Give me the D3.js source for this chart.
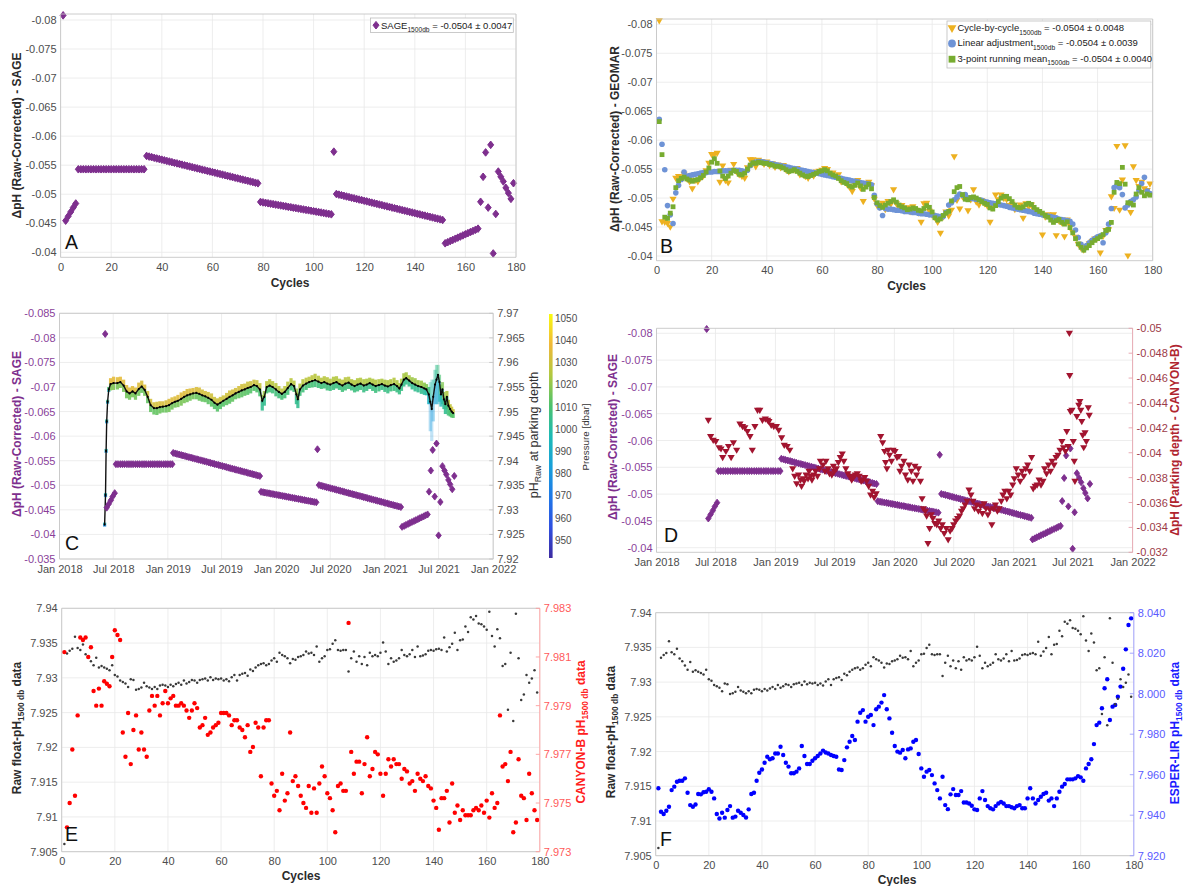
<!DOCTYPE html>
<html><head><meta charset="utf-8">
<script src="https://cdn.jsdelivr.net/npm/d3@7"></script>
<style>html,body{margin:0;padding:0;background:#fff}svg{display:block}</style>
</head><body>
<svg id="chart" width="1188" height="886" xmlns="http://www.w3.org/2000/svg"></svg>
<script>
// ================= DATA =================
const cycleTicks = [0,20,40,60,80,100,120,140,160,180];
const sageTicksAB = [-0.08,-0.075,-0.07,-0.065,-0.06,-0.055,-0.05,-0.045,-0.04];
const sageTicksC = [-0.085,-0.08,-0.075,-0.07,-0.065,-0.06,-0.055,-0.05,-0.045,-0.04,-0.035];
const parkTicksC = [7.92,7.925,7.93,7.935,7.94,7.945,7.95,7.955,7.96,7.965,7.97];
const pressureTicks = [950,960,970,980,990,1000,1010,1020,1030,1040,1050];
const canyonParkTicksD = [-0.05,-0.048,-0.046,-0.044,-0.042,-0.04,-0.038,-0.036,-0.034,-0.032];
const rawTicks = [7.905,7.91,7.915,7.92,7.925,7.93,7.935,7.94];
const canyonTicksE = [7.973,7.975,7.977,7.979,7.981,7.983];
const esperTicksF = [7.92,7.94,7.96,7.98,8.00,8.02,8.04];
const dateTicks = ["2018-01","2018-07","2019-01","2019-07","2020-01","2020-07","2021-01","2021-07","2022-01"];
const dateTickLabels = ["Jan 2018","Jul 2018","Jan 2019","Jul 2019","Jan 2020","Jul 2020","Jan 2021","Jul 2021","Jan 2022"];

// ΔpH (Raw - Corrected) SAGE, cycles 1..179
const sage = [
-0.0808,
-0.04545,-0.04620,-0.04695,-0.04770,-0.04840,
-0.0543,-0.0543,-0.0543,-0.0543,-0.0543,-0.0543,-0.0543,-0.0543,-0.0543,
-0.0543,-0.0543,-0.0543,-0.0543,-0.0543,-0.0543,-0.0543,-0.0543,-0.0543,
-0.0543,-0.0543,-0.0543,-0.0543,-0.0543,-0.0543,-0.0543,-0.0543,-0.0543,
-0.05659,-0.05648,-0.05638,-0.05627,-0.05616,-0.05606,-0.05595,-0.05584,-0.05573,-0.05563,
-0.05552,-0.05541,-0.05531,-0.05520,-0.05509,-0.05498,-0.05488,-0.05477,-0.05466,-0.05456,
-0.05445,-0.05434,-0.05423,-0.05413,-0.05402,-0.05391,-0.05381,-0.05370,-0.05359,-0.05348,
-0.05338,-0.05327,-0.05316,-0.05306,-0.05295,-0.05284,-0.05273,-0.05263,-0.05252,-0.05241,
-0.05231,-0.05220,-0.05209,-0.05198,-0.05188,
-0.04867,-0.04859,-0.04852,-0.04844,-0.04837,-0.04829,-0.04821,-0.04814,-0.04806,-0.04799,
-0.04791,-0.04783,-0.04776,-0.04768,-0.04761,-0.04753,-0.04745,-0.04738,-0.04730,-0.04723,
-0.04715,-0.04707,-0.04700,-0.04692,-0.04685,-0.04677,-0.04669,-0.04662,-0.04654,
-0.05733,
-0.05004,-0.04993,-0.04983,-0.04972,-0.04961,-0.04951,-0.04940,-0.04930,-0.04919,-0.04908,
-0.04898,-0.04887,-0.04877,-0.04866,-0.04855,-0.04844,-0.04834,-0.04823,-0.04813,-0.04802,
-0.04791,-0.04781,-0.04770,-0.04759,-0.04749,-0.04738,-0.04727,-0.04717,-0.04706,-0.04695,
-0.04685,-0.04674,-0.04664,-0.04653,-0.04642,-0.04632,-0.04621,-0.04610,-0.04600,-0.04589,
-0.04579,-0.04568,-0.04557,
-0.04155,-0.04174,-0.04194,-0.04213,-0.04233,-0.04252,-0.04271,-0.04291,-0.04310,-0.04330,
-0.04349,-0.04368,-0.04388,-0.04407,
-0.0487,-0.0530,-0.0572,-0.0477,-0.0585,-0.0398,-0.0466,-0.0539,-0.0530,-0.0522,
-0.0511,-0.0502,-0.0492,-0.0519];

// day of each cycle, counted from 1 Jan 2018
const cycleDay = [
154,159,166,173,179,186,
190,197,205,212,219,227,234,241,248,256,263,270,278,285,292,300,307,314,321,329,336,343,351,358,365,373,380,
383,390,396,403,410,416,423,429,436,443,449,456,463,469,476,483,489,496,503,509,516,522,529,536,542,549,556,562,569,575,582,589,595,602,609,615,622,629,635,642,649,655,662,668,675,
679,686,692,699,706,712,719,725,732,739,745,752,759,765,772,778,785,792,798,805,812,818,825,831,838,845,851,858,865,
869,
874,881,887,894,900,907,913,920,927,933,940,946,953,959,966,973,979,986,992,999,1005,1012,1019,1025,1032,1038,1045,1051,1058,1065,1071,1078,1084,1091,1097,1104,1110,1117,1124,1130,1137,1143,1150,
1154,1161,1167,1174,1180,1187,1194,1200,1207,1213,1220,1227,1233,1240,
1245,1251,1257,1264,1270,1277,1283,1290,1297,1303,1310,1316,1323,1330];

// GEOMAR methods (B), cycles 1..179
const cycleByCycle = [
-0.0806,-0.0459,-0.0458,-0.0456,-0.0450,-0.0498,-0.0534,-0.0537,-0.0535,-0.0541,
-0.0533,-0.0528,-0.0516,-0.0530,-0.0528,-0.0535,-0.0538,-0.0547,-0.0560,-0.0575,
-0.0575,-0.0577,-0.0527,-0.0555,-0.0530,-0.0526,-0.0548,-0.0558,-0.0545,-0.0540,
-0.0537,-0.0534,-0.0552,-0.0566,-0.0566,-0.0554,-0.0565,-0.0563,-0.0558,-0.0562,
-0.0556,-0.0559,-0.0553,-0.0557,-0.0552,-0.0556,-0.0548,-0.0545,-0.0550,-0.0549,
-0.0551,-0.0540,-0.0541,-0.0537,-0.0534,-0.0540,-0.0538,-0.0545,-0.0546,-0.0548,
-0.0551,-0.0549,-0.0540,-0.0543,-0.0537,-0.0540,-0.0528,-0.0530,-0.0524,-0.0519,
-0.0511,-0.0523,-0.0530,-0.0517,-0.0494,-0.0521,-0.0527,-0.0521,-0.0498,-0.0487,
-0.0484,-0.0491,-0.0480,-0.0494,-0.0489,-0.0514,-0.0490,-0.0483,-0.0487,-0.0478,
-0.0483,-0.0476,-0.0485,-0.0479,-0.0474,-0.0458,-0.0490,-0.0491,-0.0477,-0.0470,
-0.0466,-0.0458,-0.0439,-0.0467,-0.0476,-0.0469,-0.0479,-0.0571,-0.0496,-0.0481,
-0.0502,-0.0500,-0.0478,-0.0497,-0.0514,-0.0493,-0.0488,-0.0495,-0.0490,-0.0486,
-0.0458,-0.0483,-0.0505,-0.0497,-0.0505,-0.0499,-0.0497,-0.0487,-0.0489,-0.0480,
-0.0482,-0.0488,-0.0465,-0.0490,-0.0484,-0.0488,-0.0479,-0.0476,-0.0473,-0.0436,
-0.0467,-0.0471,-0.0464,-0.0471,-0.0435,-0.0460,-0.0457,-0.0433,-0.0462,-0.0452,
-0.0441,-0.0432,-0.0420,-0.0413,-0.0410,-0.0416,-0.0421,-0.0425,-0.0429,-0.0431,
-0.0405,-0.0434,-0.0444,-0.0445,-0.0502,-0.0482,-0.0589,-0.0479,-0.0531,-0.0590,
-0.0400,-0.0475,-0.0554,-0.0530,-0.0520,-0.0527,-0.0516,-0.0513,-0.0524];
const linearAdj = [
-0.0636,-0.0593,-0.0549,-0.0487,-0.0471,-0.0456,-0.0509,-0.0522,-0.0532,-0.0545,
-0.0538,-0.0539,-0.0540,-0.0541,-0.0542,-0.0543,-0.0544,-0.0544,-0.0545,-0.0545,
-0.0546,-0.0546,-0.0546,-0.0547,-0.0547,-0.0547,-0.0547,-0.0548,-0.0548,-0.0548,
-0.0547,-0.0546,-0.0548,-0.0556,-0.0560,-0.0562,-0.0563,-0.0563,-0.0562,-0.0561,
-0.0560,-0.0559,-0.0558,-0.0557,-0.0556,-0.0555,-0.0554,-0.0553,-0.0552,-0.0551,
-0.0550,-0.0549,-0.0548,-0.0547,-0.0546,-0.0545,-0.0544,-0.0543,-0.0542,-0.0541,
-0.0540,-0.0539,-0.0538,-0.0537,-0.0536,-0.0535,-0.0534,-0.0533,-0.0532,-0.0531,
-0.0530,-0.0529,-0.0528,-0.0527,-0.0526,-0.0525,-0.0524,-0.0523,-0.0505,-0.0490,
-0.0483,-0.0470,-0.0482,-0.0481,-0.0481,-0.0480,-0.0479,-0.0479,-0.0478,-0.0477,
-0.0477,-0.0476,-0.0475,-0.0475,-0.0474,-0.0473,-0.0473,-0.0472,-0.0471,-0.0471,
-0.0470,-0.0469,-0.0468,-0.0468,-0.0475,-0.0488,-0.0492,-0.0497,-0.0502,-0.0507,
-0.0505,-0.0506,-0.0500,-0.0500,-0.0499,-0.0498,-0.0497,-0.0496,-0.0494,-0.0493,
-0.0492,-0.0491,-0.0490,-0.0489,-0.0488,-0.0487,-0.0486,-0.0484,-0.0483,-0.0482,
-0.0481,-0.0480,-0.0479,-0.0478,-0.0477,-0.0476,-0.0474,-0.0473,-0.0472,-0.0471,
-0.0470,-0.0469,-0.0468,-0.0467,-0.0466,-0.0464,-0.0463,-0.0462,-0.0461,-0.0460,
-0.0455,-0.0445,-0.0432,-0.0420,-0.0412,-0.0418,-0.0423,-0.0427,-0.0430,-0.0433,
-0.0435,-0.0423,-0.0440,-0.0455,-0.0482,-0.0518,-0.0522,-0.0518,-0.0506,-0.0483,
-0.0488,-0.0494,-0.0497,-0.0502,-0.0513,-0.0525,-0.0536,-0.0512,-0.0508];
const runMean3 = [
-0.0632,-0.0575,-0.0467,-0.0465,-0.0474,-0.0485,-0.0518,-0.0530,-0.0534,-0.0536,
-0.0533,-0.0531,-0.0529,-0.0531,-0.0532,-0.0535,-0.0539,-0.0545,-0.0552,-0.0562,
-0.0568,-0.0560,-0.0547,-0.0538,-0.0534,-0.0538,-0.0543,-0.0548,-0.0546,-0.0541,
-0.0540,-0.0543,-0.0550,-0.0557,-0.0561,-0.0560,-0.0562,-0.0561,-0.0560,-0.0560,
-0.0558,-0.0557,-0.0555,-0.0555,-0.0554,-0.0552,-0.0549,-0.0546,-0.0547,-0.0549,
-0.0546,-0.0543,-0.0540,-0.0538,-0.0537,-0.0539,-0.0541,-0.0543,-0.0546,-0.0547,
-0.0549,-0.0547,-0.0543,-0.0540,-0.0538,-0.0534,-0.0530,-0.0527,-0.0525,-0.0521,
-0.0519,-0.0522,-0.0526,-0.0521,-0.0515,-0.0519,-0.0524,-0.0516,-0.0501,-0.0492,
-0.0487,-0.0484,-0.0488,-0.0491,-0.0494,-0.0497,-0.0493,-0.0488,-0.0485,-0.0483,
-0.0480,-0.0481,-0.0483,-0.0482,-0.0479,-0.0478,-0.0482,-0.0487,-0.0484,-0.0476,
-0.0466,-0.0462,-0.0464,-0.0470,-0.0474,-0.0477,-0.0495,-0.0511,-0.0518,-0.0520,
-0.0506,-0.0498,-0.0497,-0.0501,-0.0502,-0.0500,-0.0497,-0.0494,-0.0491,-0.0489,
-0.0483,-0.0481,-0.0487,-0.0494,-0.0500,-0.0503,-0.0503,-0.0499,-0.0494,-0.0488,
-0.0484,-0.0483,-0.0485,-0.0489,-0.0491,-0.0489,-0.0484,-0.0480,-0.0477,-0.0474,
-0.0470,-0.0467,-0.0462,-0.0458,-0.0461,-0.0463,-0.0458,-0.0455,-0.0459,-0.0449,
-0.0440,-0.0430,-0.0421,-0.0415,-0.0410,-0.0414,-0.0418,-0.0423,-0.0427,-0.0430,
-0.0433,-0.0437,-0.0444,-0.0446,-0.0458,-0.0510,-0.0527,-0.0525,-0.0553,-0.0524,
-0.0492,-0.0491,-0.0488,-0.0507,-0.0518,-0.0510,-0.0504,-0.0507,-0.0505];

// pH_raw at parking depth (C): day, median pH, band above / below, typical pressure
const parkDay = [152,155,157,159,162,166,172,182,195,205,216,226,236,246,256,267,277,287,297,307,318,328,338,348,359,369,379,389,399,410,420,430,440,450,461,471,481,491,501,512,522,532,542,552,563,573,583,593,604,614,624,634,644,655,665,675,683,690,698,708,718,729,739,749,759,769,780,790,798,803,810,820,831,841,851,861,872,882,892,902,912,923,933,943,953,963,974,984,994,1004,1014,1025,1035,1045,1055,1065,1076,1086,1096,1106,1116,1127,1137,1145,1152,1160,1168,1178,1188,1198,1208,1219,1229,1236,1244,1249,1254,1259,1265,1270,1275,1280,1285,1290,1295,1300,1305,1310,1316,1321,1326];
const parkPH = [7.9270,7.9330,7.9420,7.9480,7.9520,7.9545,7.9556,7.9558,7.9558,7.9560,7.9553,7.9541,7.9537,7.9541,7.9537,7.9546,7.9551,7.9544,7.9530,7.9513,7.9507,7.9507,7.9509,7.9510,7.9511,7.9513,7.9517,7.9520,7.9522,7.9526,7.9530,7.9533,7.9535,7.9537,7.9538,7.9536,7.9533,7.9531,7.9528,7.9524,7.9518,7.9514,7.9518,7.9522,7.9526,7.9530,7.9533,7.9537,7.9540,7.9543,7.9545,7.9548,7.9550,7.9554,7.9552,7.9545,7.9522,7.9530,7.9550,7.9553,7.9550,7.9545,7.9540,7.9536,7.9540,7.9548,7.9556,7.9552,7.9535,7.9525,7.9545,7.9553,7.9557,7.9560,7.9562,7.9564,7.9561,7.9558,7.9560,7.9557,7.9555,7.9558,7.9560,7.9556,7.9553,7.9557,7.9559,7.9555,7.9552,7.9555,7.9557,7.9553,7.9555,7.9558,7.9555,7.9552,7.9554,7.9556,7.9553,7.9551,7.9554,7.9556,7.9552,7.9547,7.9555,7.9565,7.9568,7.9563,7.9558,7.9555,7.9552,7.9550,7.9547,7.9545,7.9535,7.9520,7.9505,7.9530,7.9555,7.9565,7.9575,7.9560,7.9535,7.9545,7.9525,7.9515,7.9530,7.9512,7.9505,7.9500,7.9497];
const parkSpreadUp = [
0.0004,0.0004,0.0004,0.0004,0.0004,0.0005,0.0012,0.0013,0.0012,0.0011,
0.0012,0.0013,0.0012,0.0011,0.0012,0.0013,0.0012,0.0011,0.0012,0.0013,
0.0012,0.0013,0.0012,0.0011,0.0012,0.0013,0.0012,0.0011,0.0012,0.0013,
0.0012,0.0013,0.0012,0.0011,0.0012,0.0013,0.0012,0.0011,0.0012,0.0013,
0.0012,0.0013,0.0012,0.0011,0.0012,0.0013,0.0012,0.0011,0.0012,0.0013,
0.0012,0.0013,0.0012,0.0011,0.0012,0.0013,0.0012,0.0012,0.0012,0.0013,
0.0012,0.0013,0.0012,0.0011,0.0012,0.0013,0.0012,0.0011,0.0012,0.0013,
0.0012,0.0013,0.0012,0.0011,0.0012,0.0013,0.0012,0.0011,0.0012,0.0013,
0.0012,0.0013,0.0012,0.0011,0.0012,0.0013,0.0012,0.0011,0.0012,0.0013,
0.0012,0.0013,0.0012,0.0011,0.0012,0.0013,0.0012,0.0011,0.0012,0.0013,
0.0012,0.0013,0.0012,0.0011,0.0012,0.0013,0.0012,0.0011,0.0012,0.0013,
0.0012,0.0013,0.0012,0.0011,0.0015,0.0040,0.0060,0.0035,0.0030,0.0030,
0.0020,0.0015,0.0020,0.0015,0.0015,0.0015,0.0012,0.0012,0.0010,0.0010,
0.0008];
const parkSpreadDown = [
0.0004,0.0004,0.0004,0.0004,0.0004,0.0005,0.0013,0.0014,0.0013,0.0012,
0.0013,0.0014,0.0013,0.0012,0.0013,0.0014,0.0013,0.0012,0.0013,0.0014,
0.0013,0.0014,0.0013,0.0012,0.0013,0.0014,0.0013,0.0012,0.0013,0.0014,
0.0013,0.0014,0.0013,0.0012,0.0013,0.0014,0.0013,0.0012,0.0013,0.0014,
0.0013,0.0014,0.0013,0.0012,0.0013,0.0014,0.0013,0.0012,0.0013,0.0014,
0.0013,0.0014,0.0013,0.0012,0.0013,0.0014,0.0020,0.0018,0.0013,0.0014,
0.0013,0.0014,0.0013,0.0012,0.0013,0.0014,0.0013,0.0012,0.0020,0.0018,
0.0013,0.0014,0.0013,0.0012,0.0013,0.0014,0.0013,0.0012,0.0013,0.0014,
0.0013,0.0014,0.0013,0.0012,0.0013,0.0014,0.0013,0.0012,0.0013,0.0014,
0.0013,0.0014,0.0013,0.0012,0.0013,0.0014,0.0013,0.0012,0.0013,0.0014,
0.0013,0.0014,0.0013,0.0012,0.0013,0.0014,0.0013,0.0012,0.0013,0.0014,
0.0013,0.0014,0.0013,0.0012,0.0020,0.0060,0.0065,0.0050,0.0040,0.0050,
0.0060,0.0040,0.0025,0.0030,0.0020,0.0020,0.0025,0.0020,0.0015,0.0012,
0.0010];
const parkPres = [
985,985,988,990,995,1000,1026,1026,1025,1026,
1025,1024,1024,1025,1024,1024,1023,1024,1022,1022,
1022,1022,1023,1023,1023,1024,1024,1024,1025,1025,
1025,1024,1024,1024,1023,1023,1022,1022,1021,1021,
1020,1020,1020,1020,1021,1021,1022,1022,1022,1021,
1021,1020,1020,1020,1019,1018,1012,1012,1017,1017,
1016,1016,1016,1017,1017,1017,1016,1016,1012,1012,
1016,1016,1017,1017,1017,1016,1016,1016,1016,1016,
1015,1015,1015,1015,1016,1016,1016,1015,1015,1015,
1015,1014,1014,1014,1015,1015,1015,1014,1014,1014,
1015,1015,1014,1014,1014,1013,1013,1013,1012,1012,
1012,1012,1010,1008,1000,990,988,990,992,994,
996,1000,1004,1008,1010,1012,1014,1016,1018,1020,
1020];

// ΔpH (Parking depth - CANYON-B) (D)
const canyonParkDay = [159,166,174,182,192,198,203,213,221,229,236,246,256,264,271,279,287,294,302,310,317,325,334,341,345,352,360,368,375,384,392,401,409,
418,424,430,436,442,445,450,453,459,465,468,473,477,482,488,494,500,503,511,517,520,527,531,538,543,546,552,558,564,570,575,581,587,593,599,604,610,616,622,628,633,639,645,651,657,663,668,674,
688,694,700,703,707,711,715,721,726,732,738,744,747,752,759,764,771,775,782,787,793,798,804,810,815,819,825,829,833,838,843,848,854,860,866,872,877,883,889,895,
901,907,912,918,924,930,936,941,947,953,959,965,971,976,982,988,994,1000,1005,1011,1017,1023,1029,1034,1040,1046,1052,1058,1063,1069,1075,1081,1087,1093,1098,1104,1110,1116,1122,1127,1133,1139,1145,1151,
1156,1162,1168,1174,1180,1186,1191,1197,1203,1209,1214,1220,1226,1232,1238,1244,1249,1255,1259,1263,1267,1268,1270,1275,1279,1282,1284,1290,1296,1299,1302,1305,1308,1311,1315,1319,1325,1328];
const canyonParkDpH = [-0.0426,-0.0413,-0.0410,-0.0409,-0.0404,-0.0403,-0.0396,-0.0401,-0.0405,-0.0396,-0.0408,-0.0402,-0.0423,-0.0421,-0.0420,-0.0417,-0.0413,-0.0402,-0.0421,-0.0434,-0.0434,-0.0426,-0.0427,-0.0426,-0.0425,-0.0422,-0.0421,-0.0421,-0.0418,-0.0412,-0.0406,-0.0405,-0.0402,
-0.0387,-0.0381,-0.0375,-0.0382,-0.0378,-0.0373,-0.0379,-0.0377,-0.0382,-0.0379,-0.0385,-0.0381,-0.0378,-0.0382,-0.0385,-0.0381,-0.0387,-0.0393,-0.0390,-0.0385,-0.0393,-0.0387,-0.0383,-0.0382,-0.0389,-0.0385,-0.0387,-0.0392,-0.0396,-0.0399,-0.0393,-0.0387,-0.0383,-0.0381,-0.0378,-0.0380,-0.0382,-0.0383,-0.0381,-0.0377,-0.0378,-0.0380,-0.0377,-0.0373,-0.0366,-0.0369,-0.0364,-0.0367,
-0.0413,-0.0408,-0.0401,-0.0392,-0.0387,-0.0402,-0.0398,-0.0393,-0.0402,-0.0401,-0.0396,-0.0397,-0.0385,-0.0389,-0.0393,-0.0382,-0.0378,-0.0390,-0.0385,-0.0377,-0.0389,-0.0382,-0.0387,-0.0377,-0.0363,-0.0355,-0.0353,-0.0349,-0.0327,-0.0339,-0.0350,-0.0347,-0.0343,-0.0342,-0.0345,-0.0339,-0.0342,-0.0335,-0.0339,-0.0330,
-0.0337,-0.0339,-0.0342,-0.0345,-0.0347,-0.0349,-0.0353,-0.0355,-0.0358,-0.0361,-0.0370,-0.0366,-0.0361,-0.0355,-0.0358,-0.0353,-0.0357,-0.0351,-0.0359,-0.0355,-0.0350,-0.0354,-0.0342,-0.0355,-0.0358,-0.0353,-0.0355,-0.0361,-0.0366,-0.0369,-0.0363,-0.0369,-0.0366,-0.0374,-0.0379,-0.0387,-0.0382,-0.0377,-0.0385,-0.0381,-0.0387,-0.0390,-0.0385,-0.0396,
-0.0371,-0.0373,-0.0374,-0.0378,-0.0374,-0.0377,-0.0387,-0.0383,-0.0390,-0.0385,-0.0393,-0.0390,-0.0396,-0.0398,-0.0402,-0.0409,-0.0404,-0.0401,-0.0417,-0.0405,-0.0496,-0.0462,-0.0433,-0.0434,-0.0409,-0.0393,-0.0377,-0.0429,-0.0438,-0.0441,-0.0434,-0.0425,-0.0414,-0.0404,-0.0416,-0.0409,-0.0436,-0.0430];

// Raw float pH at 1500 db (E, F), cycles 1..179
const rawPH1500 = [
7.9061,7.9335,7.9339,7.9342,7.9359,7.9343,7.9340,7.9348,7.9334,7.9330,
7.9324,7.9318,7.9329,7.9315,7.9317,7.9315,7.9313,7.9311,7.9318,7.9304,
7.9302,7.9296,7.9294,7.9292,7.9287,7.9298,7.9297,7.9283,7.9284,7.9286,
7.9293,7.9288,7.9286,7.9284,7.9287,7.9284,7.9289,7.9290,7.9289,7.9287,
7.9290,7.9288,7.9291,7.9293,7.9290,7.9296,7.9292,7.9294,7.9297,7.9296,
7.9293,7.9297,7.9298,7.9299,7.9296,7.9301,7.9297,7.9299,7.9298,7.9299,
7.9296,7.9298,7.9295,7.9301,7.9304,7.9296,7.9304,7.9306,7.9307,7.9303,
7.9312,7.9310,7.9315,7.9318,7.9320,7.9321,7.9318,7.9320,7.9325,7.9328,
7.9323,7.9336,7.9333,7.9331,7.9328,7.9321,7.9327,7.9326,7.9330,7.9331,
7.9333,7.9338,7.9335,7.9336,7.9333,7.9345,7.9323,7.9328,7.9331,7.9340,
7.9341,7.9349,7.9354,7.9340,7.9339,7.9340,7.9340,7.9309,7.9328,7.9338,
7.9323,7.9331,7.9320,7.9330,7.9318,7.9336,7.9331,7.9333,7.9331,7.9336,
7.9351,7.9338,7.9320,7.9328,7.9323,7.9325,7.9328,7.9340,7.9333,7.9331,
7.9334,7.9340,7.9330,7.9345,7.9331,7.9332,7.9334,7.9339,7.9340,7.9339,
7.9341,7.9342,7.9340,7.9358,7.9338,7.9344,7.9349,7.9365,7.9340,7.9354,
7.9355,7.9374,7.9366,7.9387,7.9384,7.9389,7.9378,7.9377,7.9374,7.9369,
7.9395,7.9360,7.9345,7.9370,7.9357,7.9317,7.9320,7.9254,7.9336,7.9238,
7.9392,7.9328,7.9268,7.9276,7.9304,7.9293,7.9299,7.9311,7.9279];
// CANYON-B pH at 1500 db (E)
const canyonPH1500 = [
7.9812,7.9740,7.9750,7.9772,7.9753,7.9786,7.9818,7.9817,7.9818,7.9810,
7.9814,7.9796,7.9790,7.9797,7.9790,7.9800,7.9799,7.9798,7.9810,7.9821,
7.9819,7.9817,7.9779,7.9769,7.9787,7.9766,7.9780,7.9786,7.9772,7.9779,
7.9772,7.9769,7.9788,7.9794,7.9790,7.9794,7.9786,7.9791,7.9796,7.9791,
7.9793,7.9794,7.9790,7.9790,7.9791,7.9790,7.9788,7.9785,7.9788,7.9791,
7.9789,7.9781,7.9782,7.9785,7.9778,7.9779,7.9781,7.9782,7.9783,7.9787,
7.9787,7.9787,7.9786,7.9782,7.9784,7.9784,7.9781,7.9780,7.9777,7.9782,
7.9771,7.9773,7.9783,7.9781,7.9761,7.9781,7.9784,7.9784,7.9758,7.9753,
7.9755,7.9747,7.9762,7.9751,7.9754,7.9779,7.9759,7.9761,7.9757,7.9753,
7.9750,7.9748,7.9757,7.9746,7.9756,7.9746,7.9758,7.9765,7.9761,7.9754,
7.9752,7.9747,7.9738,7.9757,7.9758,7.9755,7.9755,7.9824,7.9771,7.9762,
7.9767,7.9767,7.9754,7.9766,7.9777,7.9761,7.9764,7.9771,7.9770,7.9762,
7.9753,7.9762,7.9768,7.9765,7.9768,7.9766,7.9766,7.9760,7.9764,7.9763,
7.9758,7.9759,7.9755,7.9762,7.9760,7.9759,7.9761,7.9757,7.9756,7.9751,
7.9748,7.9739,7.9752,7.9752,7.9755,7.9742,7.9758,7.9746,7.9749,7.9743,
7.9747,7.9745,7.9745,7.9745,7.9747,7.9748,7.9747,7.9749,7.9746,7.9751,
7.9744,7.9754,7.9748,7.9750,7.9786,7.9765,7.9766,7.9759,7.9771,7.9738,
7.9742,7.9768,7.9753,7.9752,7.9743,7.9762,7.9754,7.9747,7.9743];
// ESPER-LIR pH at 1500 db (F)
const esperPH1500 = [
7.9533,7.9417,7.9406,7.9422,7.9442,7.9524,7.9541,7.9565,7.9570,7.9570,
7.9582,7.9511,7.9450,7.9442,7.9453,7.9505,7.9503,7.9513,7.9516,7.9528,
7.9516,7.9483,7.9406,7.9384,7.9412,7.9388,7.9426,7.9445,7.9388,7.9393,
7.9422,7.9412,7.9401,7.9389,7.9429,7.9505,7.9511,7.9570,7.9610,7.9626,
7.9659,7.9689,7.9676,7.9681,7.9705,7.9705,7.9738,7.9697,7.9659,7.9640,
7.9607,7.9607,7.9615,7.9631,7.9742,7.9692,7.9653,7.9653,7.9669,7.9681,
7.9692,7.9705,7.9719,7.9710,7.9705,7.9697,7.9692,7.9689,7.9626,7.9623,
7.9672,7.9735,7.9763,7.9791,7.9771,7.9862,7.9906,7.9919,7.9862,7.9886,
7.9895,7.9845,7.9923,7.9936,7.9956,7.9993,7.9923,7.9878,7.9807,7.9742,
7.9714,7.9709,7.9722,7.9681,7.9725,7.9730,7.9763,7.9771,7.9702,7.9631,
7.9590,7.9615,7.9623,7.9598,7.9557,7.9524,7.9483,7.9590,7.9450,7.9430,
7.9503,7.9529,7.9500,7.9500,7.9519,7.9463,7.9463,7.9458,7.9447,7.9429,
7.9426,7.9483,7.9519,7.9475,7.9445,7.9434,7.9429,7.9445,7.9458,7.9465,
7.9458,7.9445,7.9445,7.9439,7.9434,7.9445,7.9450,7.9434,7.9434,7.9483,
7.9533,7.9483,7.9458,7.9475,7.9491,7.9505,7.9511,7.9472,7.9483,7.9445,
7.9483,7.9516,7.9541,7.9554,7.9577,7.9577,7.9577,7.9582,7.9593,7.9587,
7.9570,7.9631,7.9653,7.9676,7.9751,7.9845,7.9857,7.9928,8.0027,8.0071,
7.9870,7.9936,7.9944,7.9985,8.0035,8.0123,8.0219,8.0339,8.0372];

const parulaStops = ["#3D2AA0","#2F4FE0","#1F78E8","#18A0DA","#1DBAB5","#4CC26C","#B2C940","#F0B83A","#F9FB0E"];

// ================= DRAWING =================
const FONT = "'Liberation Sans', Arial, Helvetica, sans-serif";
const GRID = "#e8e8e8", BOX = "#c6c6c6", TXT = "#4d4d4d", LBL = "#2b2b2b";
const PURPLE = "#7E2F8E", ORANGE = "#EDB120", BLUE_M = "#6E93D6", GREEN = "#77AC30", DARKRED = "#A2142F";
const svg = d3.select("#chart");
svg.append("rect").attr("width",1188).attr("height",886).attr("fill","#fff");
const fmt = v => String(+v.toFixed(4));
const base = new Date(2018,0,1);
const dayDate = d => d3.timeDay.offset(base, d);
const parseYM = d3.timeParse("%Y-%m");
const dateTickVals = dateTicks.map(parseYM);
const dateFmt = d => dateTickLabels[dateTickVals.findIndex(t => +t === +d)];
const diamond = "M0,-3.8L3,0L0,3.8L-3,0Z";
const diamondS = "M0,-3.5L2.7,0L0,3.5L-2.7,0Z";
const triDown = "M-3.6,-2.6L3.6,-2.6L0,3.6Z";
const pColor = d3.scaleLinear().domain(parulaStops.map((c,i)=>942 + i*110/(parulaStops.length-1))).range(parulaStops).clamp(true);

function frame(box, x, xt, y, yt) {
  const g = svg.append("g");
  g.append("rect").attr("x",box.l).attr("y",box.t).attr("width",box.r-box.l).attr("height",box.b-box.t).attr("fill","#fff");
  g.selectAll(null).data(xt).join("line").attr("x1",d=>x(d)).attr("x2",d=>x(d)).attr("y1",box.t).attr("y2",box.b).attr("stroke",GRID).attr("stroke-width",0.8);
  g.selectAll(null).data(yt).join("line").attr("y1",d=>y(d)).attr("y2",d=>y(d)).attr("x1",box.l).attr("x2",box.r).attr("stroke",GRID).attr("stroke-width",0.8);
  return g;
}
function boxOutline(box, rightColor) {
  const g = svg.append("g").attr("fill","none").attr("stroke-width",0.9);
  g.append("path").attr("d",`M${box.r},${box.t}H${box.l}V${box.b}H${box.r}`).attr("stroke",BOX);
  g.append("line").attr("x1",box.r).attr("x2",box.r).attr("y1",box.t).attr("y2",box.b).attr("stroke",rightColor||BOX);
}
function styleAxis(a, color, size) {
  a.select(".domain").remove();
  a.selectAll(".tick line").remove();
  a.selectAll("text").attr("fill",color).attr("font-size",size||11).attr("font-family",FONT);
  return a;
}
function leftAxis(box, y, ticks, color) {
  return styleAxis(svg.append("g").attr("transform",`translate(${box.l},0)`)
    .call(d3.axisLeft(y).tickValues(ticks).tickFormat(fmt).tickSize(0).tickPadding(4)), color);
}
function rightAxis(box, y, ticks, color, format, tickColor) {
  const g = svg.append("g");
  g.selectAll(null).data(ticks).join("line").attr("x1",box.r-4).attr("x2",box.r).attr("y1",d=>y(d)).attr("y2",d=>y(d)).attr("stroke",tickColor||BOX).attr("stroke-width",0.9);
  return styleAxis(svg.append("g").attr("transform",`translate(${box.r},0)`)
    .call(d3.axisRight(y).tickValues(ticks).tickFormat(format||fmt).tickSize(0).tickPadding(4)), color);
}
function bottomAxis(box, x, ticks, format) {
  return styleAxis(svg.append("g").attr("transform",`translate(0,${box.b})`)
    .call(d3.axisBottom(x).tickValues(ticks).tickFormat(format).tickSize(0).tickPadding(6)), TXT);
}
function label(x, y, parts, o) {
  o = Object.assign({size:12, weight:"bold", color:LBL, rotate:true, anchor:"middle"}, o||{});
  const t = svg.append("text").attr("transform", o.rotate ? `translate(${x},${y}) rotate(-90)` : `translate(${x},${y})`)
    .attr("text-anchor",o.anchor).attr("font-family",FONT).attr("font-size",o.size).attr("font-weight",o.weight).attr("fill",o.color);
  if (o.rotate) t.attr("dominant-baseline","central");
  let shift = 0;
  parts.forEach(p => {
    const target = p.sub ? o.size*0.34 : 0;
    const s = t.append("tspan").text(p.t).attr("dy", target - shift);
    shift = target;
    if (p.sub) s.attr("font-size", o.size*0.7);
  });
  return t;
}
function letter(x, y, t) {
  svg.append("text").attr("x",x).attr("y",y).attr("font-family",FONT).attr("font-size",19.5).attr("fill","#111").text(t);
}
const dpHLabel = [{t:"\u0394pH (Raw-Corrected) - SAGE"}];

// ---------- Panel A ----------
const boxA = {l:60.6, r:516, t:14, b:257.3};
const xA = d3.scaleLinear().domain([0,180]).range([boxA.l, boxA.r]);
const yA = d3.scaleLinear().domain([-0.08,-0.04]).range([20,252.3]);
frame(boxA, xA, cycleTicks, yA, sageTicksAB);
svg.append("g").selectAll("path").data(sage).join("path").attr("d",diamond)
  .attr("transform",(d,i)=>`translate(${xA(i+1)},${yA(d)})`).attr("fill",PURPLE).attr("stroke",PURPLE).attr("stroke-width",1);
boxOutline(boxA);
leftAxis(boxA, yA, sageTicksAB, TXT);
bottomAxis(boxA, xA, cycleTicks, fmt);
label(17, 135.5, dpHLabel);
label(290, 287, [{t:"Cycles"}], {rotate:false});
letter(65, 249, "A");
svg.append("rect").attr("x",370.5).attr("y",18).attr("width",142.8).attr("height",14.5).attr("fill","#fff").attr("stroke","#bdbdbd").attr("stroke-width",0.8);
svg.append("path").attr("d",diamond).attr("transform","translate(376,25.2)").attr("fill",PURPLE).attr("stroke",PURPLE).attr("stroke-width",1);
label(381, 28.6, [{t:"SAGE"},{t:"1500db",sub:true},{t:" = -0.0504 \u00b1 0.0047"}], {rotate:false, anchor:"start", weight:"normal", size:9.5, color:"#222"});

// ---------- Panel B ----------
const boxB = {l:656.5, r:1152.7, t:19, b:260.7};
const xB = d3.scaleLinear().domain([0,180]).range([boxB.l, boxB.r]);
const yB = d3.scaleLinear().domain([-0.08,-0.04]).range([24.3,256]);
frame(boxB, xB, cycleTicks, yB, sageTicksAB);
svg.append("g").selectAll("path").data(cycleByCycle).join("path").attr("d",triDown)
  .attr("transform",(d,i)=>`translate(${xB(i+1)},${yB(d)})`).attr("fill",ORANGE);
svg.append("g").selectAll("circle").data(linearAdj).join("circle")
  .attr("cx",(d,i)=>xB(i+1)).attr("cy",d=>yB(d)).attr("r",2.8).attr("fill",BLUE_M);
svg.append("g").selectAll("rect").data(runMean3).join("rect")
  .attr("x",(d,i)=>xB(i+1)-2.4).attr("y",d=>yB(d)-2.4).attr("width",4.8).attr("height",4.8).attr("fill",GREEN);
boxOutline(boxB);
leftAxis(boxB, yB, sageTicksAB, TXT);
bottomAxis(boxB, xB, cycleTicks, fmt);
label(615, 139, [{t:"\u0394pH (Raw-Corrected) - GEOMAR"}]);
label(906.5, 289.5, [{t:"Cycles"}], {rotate:false});
letter(660, 253, "B");
svg.append("rect").attr("x",947).attr("y",21).attr("width",203.8).attr("height",47).attr("fill","#fff").attr("stroke","#bdbdbd").attr("stroke-width",0.8);
const legB = [
  {y:28.5, name:"Cycle-by-cycle", stat:" = -0.0504 \u00b1 0.0048", kind:"tri"},
  {y:43.5, name:"Linear adjustment", stat:" = -0.0504 \u00b1 0.0039", kind:"circ"},
  {y:59.2, name:"3-point running mean", stat:" = -0.0504 \u00b1 0.0040", kind:"sq"}];
legB.forEach(e => {
  if (e.kind==="tri") svg.append("path").attr("d","M-4.4,-3.3L4.4,-3.3L0,4.4Z").attr("transform",`translate(952,${e.y})`).attr("fill",ORANGE);
  if (e.kind==="circ") svg.append("circle").attr("cx",952).attr("cy",e.y).attr("r",3.9).attr("fill",BLUE_M);
  if (e.kind==="sq") svg.append("rect").attr("x",948.6).attr("y",e.y-3.4).attr("width",6.8).attr("height",6.8).attr("fill",GREEN);
  label(957.5, e.y+2.8, [{t:e.name},{t:"1500db",sub:true},{t:e.stat}], {rotate:false, anchor:"start", weight:"normal", size:9.5, color:"#222"});
});

// ---------- Panel C ----------
const boxC = {l:59.5, r:493.2, t:313.3, b:559};
const xC = d3.scaleTime().domain([dateTickVals[0], dateTickVals[8]]).range([boxC.l, boxC.r]);
const yCL = d3.scaleLinear().domain([-0.085,-0.035]).range([boxC.t, boxC.b]);
const yCR = d3.scaleLinear().domain([7.97,7.92]).range([boxC.t, boxC.b]);
frame(boxC, xC, dateTickVals, yCL, sageTicksC);
const band = svg.append("g");
parkDay.forEach((d,i) => {
  const x = xC(dayDate(d)), ph = parkPH[i], up = parkSpreadUp[i], dn = parkSpreadDown[i], p = parkPres[i];
  const op = Math.min(0.9, 0.0034/(up+dn));
  band.append("rect").attr("x",x-1.6).attr("width",3.2).attr("y",yCR(ph+up)).attr("height",yCR(ph)-yCR(ph+up)).attr("fill",pColor(p+10)).attr("fill-opacity",op);
  band.append("rect").attr("x",x-1.6).attr("width",3.2).attr("y",yCR(ph)).attr("height",yCR(ph-dn)-yCR(ph)).attr("fill",pColor(p-8)).attr("fill-opacity",op);
});
svg.append("path").datum(parkDay).attr("fill","none").attr("stroke","#111").attr("stroke-width",1.4)
  .attr("d", d3.line().x(d=>xC(dayDate(d))).y((d,i)=>yCR(parkPH[i])));
svg.append("g").selectAll("circle").data(parkDay).join("circle")
  .attr("cx",d=>xC(dayDate(d))).attr("cy",(d,i)=>yCR(parkPH[i])).attr("r",1.1).attr("fill","#000");
svg.append("g").selectAll("path").data(sage).join("path").attr("d",diamondS)
  .attr("transform",(d,i)=>`translate(${xC(dayDate(cycleDay[i]))},${yCL(d)})`).attr("fill",PURPLE).attr("stroke",PURPLE).attr("stroke-width",0.9);
boxOutline(boxC);
leftAxis(boxC, yCL, sageTicksC, "#8a3f9a");
rightAxis(boxC, yCR, parkTicksC, TXT);
bottomAxis(boxC, xC, dateTickVals, dateFmt);
label(17, 434, dpHLabel, {color:PURPLE});
label(534, 435, [{t:"pH"},{t:"Raw",sub:true},{t:" at parking depth"}], {weight:"normal", size:12.5, color:"#333"});
letter(65, 550, "C");
const cbY = d3.scaleLinear().domain([942,1052]).range([558,314]);
const defs = svg.append("defs");
const grad = defs.append("linearGradient").attr("id","parula").attr("x1",0).attr("x2",0).attr("y1",1).attr("y2",0);
parulaStops.forEach((c,i)=>grad.append("stop").attr("offset",i/(parulaStops.length-1)).attr("stop-color",c));
svg.append("rect").attr("x",549).attr("y",314).attr("width",3.6).attr("height",244).attr("fill","url(#parula)");
svg.append("g").selectAll("text").data(pressureTicks).join("text").attr("x",555).attr("y",d=>cbY(d)).attr("dy","0.35em")
  .attr("font-family",FONT).attr("font-size",10).attr("fill",TXT).text(d=>d);
label(584.5, 437, [{t:"Pressure [dbar]"}], {weight:"normal", size:9.8, color:"#333"});

// ---------- Panel D ----------
const boxD = {l:656.5, r:1132.6, t:328.3, b:552.3};
const xD = d3.scaleTime().domain([dateTickVals[0], dateTickVals[8]]).range([boxD.l, boxD.r]);
const yDL = d3.scaleLinear().domain([-0.08,-0.04]).range([333.3,547.7]);
const yDR = d3.scaleLinear().domain([-0.05,-0.032]).range([boxD.t, boxD.b]);
frame(boxD, xD, dateTickVals, yDL, sageTicksAB);
svg.append("g").selectAll("path").data(sage).join("path").attr("d",diamondS)
  .attr("transform",(d,i)=>`translate(${xD(dayDate(cycleDay[i]))},${yDL(d)})`).attr("fill",PURPLE).attr("stroke",PURPLE).attr("stroke-width",0.9);
svg.append("g").selectAll("path").data(canyonParkDpH).join("path").attr("d",triDown)
  .attr("transform",(d,i)=>`translate(${xD(dayDate(canyonParkDay[i]))},${yDR(d)})`).attr("fill",DARKRED);
boxOutline(boxD, "#e6a3ad");
leftAxis(boxD, yDL, sageTicksAB, "#8a3f9a");
rightAxis(boxD, yDR, canyonParkTicksD, "#9c3a48", fmt, "#e6a3ad");
bottomAxis(boxD, xD, dateTickVals, dateFmt);
label(613, 437, dpHLabel, {color:PURPLE});
label(1175.4, 440, [{t:"\u0394pH (Parking depth - CANYON-B)"}], {color:"#B0242F"});
letter(664, 542, "D");

// ---------- Panel E ----------
const boxE = {l:61.7, r:539.8, t:608.3, b:851.7};
const xE = d3.scaleLinear().domain([0,180]).range([boxE.l, boxE.r]);
const yEL = d3.scaleLinear().domain([7.905,7.94]).range([boxE.b, boxE.t]);
const yER = d3.scaleLinear().domain([7.973,7.983]).range([boxE.b, boxE.t]);
frame(boxE, xE, cycleTicks, yEL, rawTicks);
svg.append("g").selectAll("circle").data(rawPH1500).join("circle")
  .attr("cx",(d,i)=>xE(i+1)).attr("cy",d=>yEL(d)).attr("r",1.25).attr("fill","#3a3a3a");
svg.append("g").selectAll("circle").data(canyonPH1500).join("circle")
  .attr("cx",(d,i)=>xE(i+1)).attr("cy",d=>yER(d)).attr("r",2.2).attr("fill","#ff0000");
boxOutline(boxE, "#ff9c9c");
leftAxis(boxE, yEL, rawTicks, TXT);
rightAxis(boxE, yER, canyonTicksE, "#ff5a5a", d3.format(".3f"), "#ff9c9c");
bottomAxis(boxE, xE, cycleTicks, fmt);
label(17, 728, [{t:"Raw float-pH"},{t:"1500 db",sub:true},{t:" data"}]);
label(581.4, 732, [{t:"CANYON-B pH"},{t:"1500 db",sub:true},{t:" data"}], {color:"#ff2020"});
label(301, 879.5, [{t:"Cycles"}], {rotate:false});
letter(65, 841, "E");

// ---------- Panel F ----------
const boxF = {l:655.7, r:1133.8, t:612.7, b:855.7};
const xF = d3.scaleLinear().domain([0,180]).range([boxF.l, boxF.r]);
const yFL = d3.scaleLinear().domain([7.905,7.94]).range([boxF.b, boxF.t]);
const yFR = d3.scaleLinear().domain([7.92,8.04]).range([boxF.b, boxF.t]);
frame(boxF, xF, cycleTicks, yFL, rawTicks);
svg.append("g").selectAll("circle").data(esperPH1500).join("circle")
  .attr("cx",(d,i)=>xF(i+1)).attr("cy",d=>yFR(d)).attr("r",2.2).attr("fill","#0000ff");
svg.append("g").selectAll("circle").data(rawPH1500).join("circle")
  .attr("cx",(d,i)=>xF(i+1)).attr("cy",d=>yFL(d)).attr("r",1.25).attr("fill","#3a3a3a");
boxOutline(boxF, "#9c9cff");
leftAxis(boxF, yFL, rawTicks, TXT);
rightAxis(boxF, yFR, esperTicksF, "#5a5aff", d3.format(".3f"), "#9c9cff");
bottomAxis(boxF, xF, cycleTicks, fmt);
label(611, 732, [{t:"Raw float-pH"},{t:"1500 db",sub:true},{t:" data"}]);
label(1175.4, 733, [{t:"ESPER-LIR pH"},{t:"1500 db",sub:true},{t:" data"}], {color:"#1a1aff"});
label(897, 883.5, [{t:"Cycles"}], {rotate:false});
letter(660, 846, "F");
</script>
</body></html>
